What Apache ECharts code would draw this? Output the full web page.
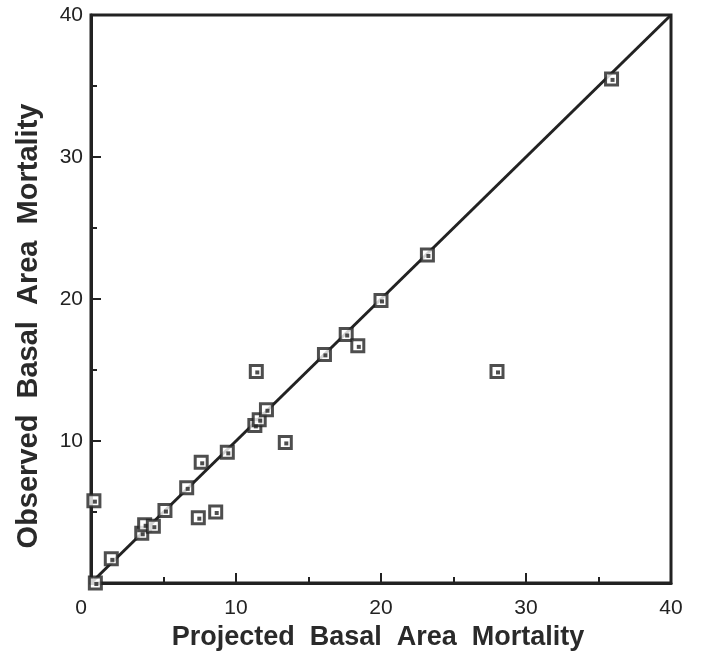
<!DOCTYPE html>
<html>
<head>
<meta charset="utf-8">
<script src="https://cdn.jsdelivr.net/npm/echarts@6/dist/echarts.min.js"></script>
<style>
  html, body { margin: 0; padding: 0; background: #fff; }
  #chart { width: 708px; height: 660px; }
</style>
</head>
<body>
<div id="chart"></div>
<script>
// Projected vs. observed basal area mortality per plot
const projected = [0.3, 0.2, 1.4, 3.5, 3.7, 4.3, 5.1, 6.6, 7.6, 7.4, 8.6, 9.4, 11.4, 11.3, 11.6, 12.1, 13.4, 16.1, 17.6, 18.4, 20.0, 23.2, 28.0, 35.9];
const observed  = [0.0, 5.8, 1.7, 3.5, 4.1, 4.0, 5.1, 6.7, 8.5, 4.6, 5.0, 9.2, 14.9, 11.1, 11.5, 12.2, 9.9, 16.1, 17.5, 16.7, 19.9, 23.1, 14.9, 35.5];
// 1:1 reference line
const lineX = [0, 40];
const lineY = [0, 40];
const axisMin = 0, axisMax = 40, axisStep = 10;
const xTitle = 'Projected  Basal  Area  Mortality';
const yTitle = 'Observed  Basal  Area  Mortality';

const ink = '#222';
const points = projected.map((x, i) => [x, observed[i]]);
const diag = lineX.map((x, i) => [x, lineY[i]]);

const chart = echarts.init(document.getElementById('chart'), null, { renderer: 'canvas' });

const axisCommon = {
  type: 'value',
  min: axisMin,
  max: axisMax,
  interval: axisStep,
  splitLine: { show: false },
  axisLine: { show: true, onZero: false, lineStyle: { color: ink, width: 3 } },
  axisTick: { show: true, inside: true, length: 10, lineStyle: { color: ink, width: 2 } },
  minorTick: { show: true, splitNumber: 2, length: 6, lineStyle: { color: ink, width: 2 } }
};

const tickFont = { fontFamily: 'Liberation Sans', fontSize: 21, color: '#222' };

chart.setOption({
  animation: false,
  backgroundColor: '#fff',
  grid: {
    left: 91, top: 15, right: 37, bottom: 77,
    show: true, borderColor: ink, borderWidth: 3, backgroundColor: 'transparent'
  },
  xAxis: Object.assign({}, axisCommon, {
    name: xTitle,
    nameLocation: 'middle',
    nameGap: 40,
    nameTextStyle: { fontFamily: 'Liberation Sans', fontWeight: 'bold', fontSize: 27, color: '#2a2a2a', padding: [0, 6, 0, 0] },
    axisLabel: Object.assign({}, tickFont, {
      margin: 15,
      formatter: v => v === 0 ? '{z|0}' : String(v),
      rich: { z: Object.assign({}, tickFont, { padding: [0, 20, 0, 0] }) }
    })
  }),
  yAxis: Object.assign({}, axisCommon, {
    name: yTitle,
    nameLocation: 'middle',
    nameGap: 48,
    nameTextStyle: { fontFamily: 'Liberation Sans', fontWeight: 'bold', fontSize: 29, color: '#2a2a2a', padding: [0, 54, 0, 0] },
    axisLabel: Object.assign({}, tickFont, {
      margin: 8,
      formatter: v => v === 0 ? '' : String(v)
    })
  }),
  series: [
    {
      type: 'line',
      data: diag,
      symbol: 'none',
      lineStyle: { color: ink, width: 3 },
      silent: true,
      z: 2
    },
    {
      type: 'scatter',
      data: points,
      symbol: 'rect',
      symbolSize: 12,
      clip: false,
      itemStyle: { color: '#fff', borderColor: ink, borderWidth: 3 },
      z: 3
    },
    {
      type: 'scatter',
      data: points,
      symbol: 'rect',
      symbolSize: 4,
      symbolOffset: [1, 1],
      clip: false,
      itemStyle: { color: ink },
      z: 4
    }
  ]
});
</script>
</body>
</html>
